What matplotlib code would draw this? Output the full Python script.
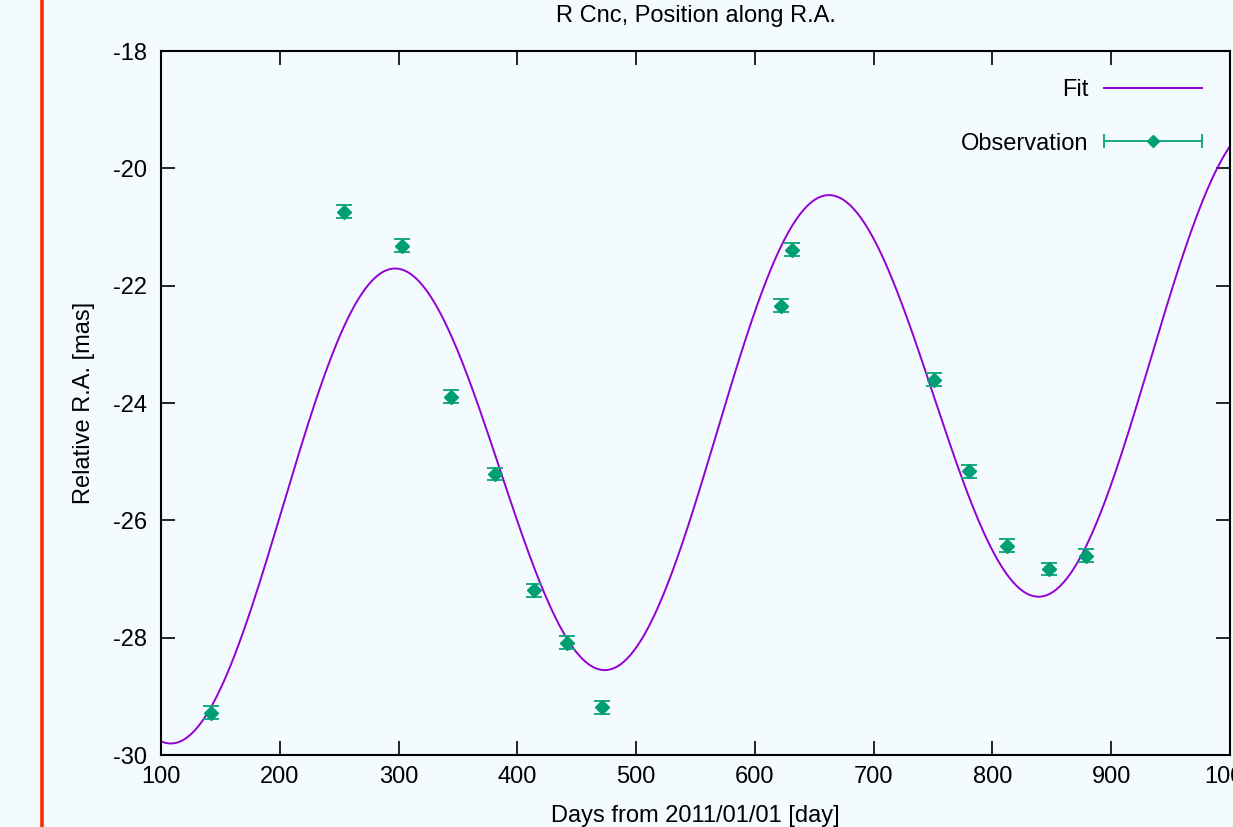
import numpy as np
import matplotlib
matplotlib.use('Agg')
import matplotlib.pyplot as plt
from matplotlib.lines import Line2D
from matplotlib.legend_handler import HandlerLine2D, HandlerTuple

days = [142, 254, 303, 344, 381, 414, 442, 471, 622, 631, 751, 780, 812, 848, 879]
ra = [-29.28, -20.74, -21.32, -23.89, -25.21, -27.19, -28.09, -29.19,
      -22.34, -21.39, -23.60, -25.16, -26.43, -26.83, -26.60]
ra_err = [0.11] * len(days)

# fit: offset + proper motion + annual parallax term
fit_offset = -26.45
fit_pm = 0.003425      # mas/day
fit_amp = 3.73         # mas
fit_t0 = 202.7         # day
fit_period = 365.25    # day

bg = '#f3fbfe'
fit_col = '#9400d3'
obs_col = '#009e73'
err_col = '#1aa980'

plt.rcParams['font.family'] = ['Liberation Sans', 'DejaVu Sans']
plt.rcParams['axes.unicode_minus'] = False


def main():
    fig = plt.figure(figsize=(12.33, 8.27), dpi=100, facecolor=bg)
    ax = fig.add_axes([161 / 1233, 1 - 755 / 827, (1230 - 161) / 1233, (755 - 51) / 827])
    ax.set_facecolor(bg)

    t = np.linspace(100, 1000, 600)
    y = fit_offset + fit_pm * t + fit_amp * np.sin(2 * np.pi * (t - fit_t0) / fit_period)
    ax.plot(t, y, color=fit_col, lw=1.4, zorder=2)

    ax.errorbar(days, ra, yerr=ra_err, fmt='D', color=obs_col, ms=7,
                ecolor=err_col, elinewidth=1.4, capsize=5.5, capthick=1.4, zorder=3)

    ax.set_xlim(100, 1000)
    ax.set_ylim(-30, -18)
    ax.set_xticks(range(100, 1001, 100))
    ax.set_yticks(range(-30, -17, 2))
    ax.tick_params(direction='in', length=10, width=1.2, top=True, right=True,
                   labelsize=17, colors='black')
    ax.tick_params(axis='x', pad=8)
    ax.tick_params(axis='y', pad=10)
    for s in ax.spines.values():
        s.set_linewidth(1.5)

    ax.set_title('R Cnc, Position along R.A.', fontsize=17, pad=21)
    ax.set_xlabel('Days from 2011/01/01 [day]', fontsize=17, labelpad=12)
    ax.set_ylabel('Relative R.A. [mas]', fontsize=17, labelpad=13)

    # gnuplot style key: text right, sample left, horizontal error bar
    h_fit = Line2D([], [], color=fit_col, lw=1.4)
    h_bar = Line2D([], [], color=err_col, lw=1.4, marker='|', ms=10, mew=1.4)
    h_dot = Line2D([], [], color=obs_col, ls='', marker='D', ms=6)
    ax.legend([h_fit, (h_bar, h_dot)], ['Fit', 'Observation'], loc='upper right',
              frameon=False, markerfirst=False, fontsize=17, handlelength=4.15,
              labelspacing=1.32, borderaxespad=0.8, handletextpad=0.65,
              handler_map={h_bar: HandlerLine2D(numpoints=2, marker_pad=0),
                           h_dot: HandlerLine2D(numpoints=1),
                           tuple: HandlerTuple(ndivide=1)})

    fig.add_artist(Line2D([42 / 1233, 42 / 1233], [0, 1], color='#ff2a00', lw=2.6))

    fig.savefig('out.png', dpi=100, facecolor=bg)


if __name__ == '__main__':
    main()
